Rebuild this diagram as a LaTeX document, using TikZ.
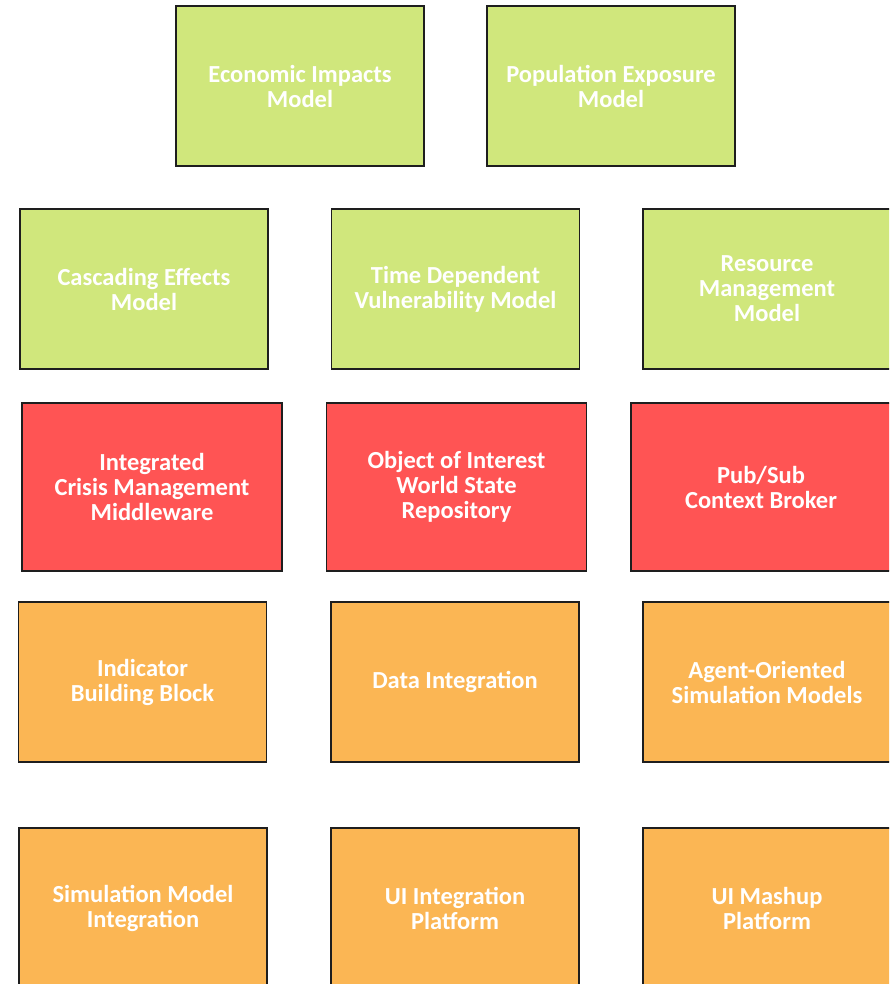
\documentclass[tikz,border=0pt]{standalone}
\usepackage{fontspec}
\setmainfont{Carlito}
\definecolor{modelgreen}{RGB}{208,231,124}
\definecolor{coreRed}{RGB}{255,84,84}
\definecolor{blockOrange}{RGB}{251,182,84}
\definecolor{edgeDark}{RGB}{30,30,30}
\tikzset{
  block/.style={draw=edgeDark, line width=1.1pt, rectangle, inner sep=0pt,
    text=white, font=\fontsize{24.5}{25}\selectfont\bfseries, align=center},
  greenbox/.style={block, fill=modelgreen, minimum width=248pt, minimum height=160pt},
  redbox/.style={block, fill=coreRed, minimum width=260pt, minimum height=168pt},
  orangebox/.style={block, fill=blockOrange, minimum width=248pt, minimum height=160pt},
}
\begin{document}
\begin{tikzpicture}[x=1pt,y=-1pt]
\useasboundingbox (0,0) rectangle (889,984);
\clip (0,0) rectangle (889,984);
% top row of models
\node[greenbox] (econ) at (300,86) {Economic Impacts\\Model};
\node[greenbox] (pop) at (611,86) {Population Exposure\\Model};
% second row of models
\node[greenbox] (casc) at (144,289) {Cascading Effects\\Model};
\node[greenbox] (vuln) at (455.5,289) {Time Dependent\\Vulnerability Model};
\node[greenbox] (res) at (767,289) {Resource\\Management\\Model};
% middleware row
\node[redbox] (icms) at (152,487) {Integrated\\Crisis Management\\Middleware};
\node[redbox] (ooi) at (456.5,487) {Object of Interest\\World State\\Repository};
\node[redbox] (broker) at (761,487) {Pub/Sub\\Context Broker};
% building blocks
\node[orangebox] (ind) at (142.5,682) {Indicator\\Building Block};
\node[orangebox] (data) at (455,682) {Data Integration};
\node[orangebox] (agent) at (767,682) {Agent-Oriented\\Simulation Models};
% integration platforms
\node[orangebox] (sim) at (143,908) {Simulation Model\\Integration};
\node[orangebox] (uiint) at (455,908) {UI Integration\\Platform};
\node[orangebox] (mash) at (767,908) {UI Mashup\\Platform};
\end{tikzpicture}
\end{document}
